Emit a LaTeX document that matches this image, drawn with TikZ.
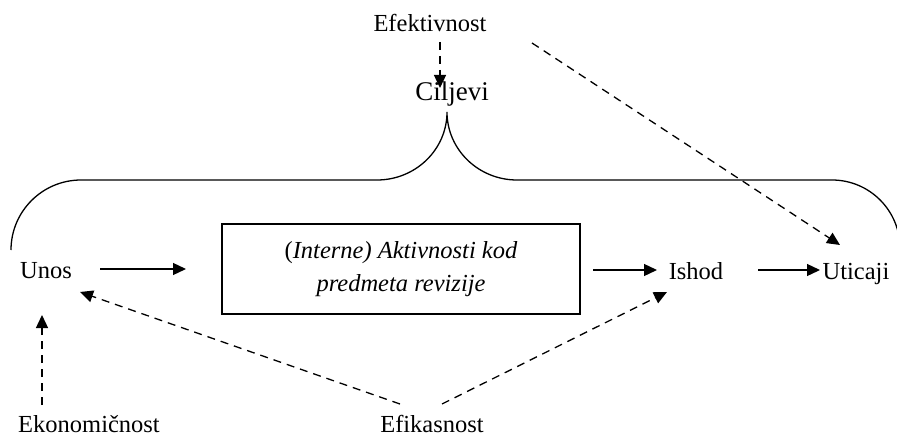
\documentclass[tikz,border=0pt]{standalone}
\usepackage{fontspec}
\setmainfont{Liberation Serif}
\usetikzlibrary{arrows.meta}
\begin{document}
\begin{tikzpicture}[x=1pt,y=-1pt,
  lbl/.style={inner sep=0pt, anchor=base, font=\fontsize{24.5}{33}\selectfont},
  arr/.style={line width=1.3pt,-{Triangle[length=13pt,width=12pt]}},
  darr/.style={arr, dash pattern=on 8pt off 6pt},
  boxst/.style={draw, line width=1.3pt, minimum width=358pt, minimum height=90pt,
    align=center, inner sep=0pt, font=\fontsize{24.5}{33}\selectfont},
  bracest/.style={line width=1.3pt}]
\useasboundingbox (0,0) rectangle (897,436);

% text nodes
\node[lbl] (efekt) at (430,32) {Efektivnost};
\node[lbl, font=\fontsize{27}{32}\selectfont] (cilj) at (452,100) {Ciljevi};
\node[lbl] (unos) at (46,278) {Unos};
\node[lbl] (ishod) at (696,279) {Ishod};
\node[lbl] (utic) at (856,279) {Uticaji};
\node[lbl, text depth=0pt] (ekon) at (89,432) {Ekonomičnost};
\node[lbl, text depth=0pt] (efik) at (432,432) {Efikasnost};
\node[boxst] (box) at (401,269) {(\textit{Interne) Aktivnosti kod}\\\textit{predmeta revizije}};

% connector end points
\coordinate (e1) at (440,42);
\coordinate (e2) at (440,88);
\coordinate (e3) at (532,43);
\coordinate (e4) at (840,245);
\coordinate (u1) at (100,269);
\coordinate (u2) at (186,269);
\coordinate (b1) at (593,270);
\coordinate (b2) at (657,270);
\coordinate (i1) at (758,270);
\coordinate (i2) at (820,270);
\coordinate (k1) at (42,405);
\coordinate (k2) at (42,315);
\coordinate (f1) at (400,404);
\coordinate (f2) at (80,292);
\coordinate (f3) at (442,404);
\coordinate (f4) at (667,292);

% solid arrows
\draw[arr] (u1) -- (u2);
\draw[arr] (b1) -- (b2);
\draw[arr] (i1) -- (i2);

% dashed arrows
\draw[darr] (e1) -- (e2);
\draw[darr] (e3) -- (e4);
\draw[darr] (k1) -- (k2);
\draw[darr] (f1) -- (f2);
\draw[darr] (f3) -- (f4);

% brace
\draw[bracest] (11,250) .. controls (11,211.4) and (42.4,180) .. (81,180)
  -- (377,180) .. controls (415.6,180) and (447,149.5) .. (447,112)
  .. controls (447,149.5) and (478.4,180) .. (517,180)
  -- (832,180) .. controls (869.5,180) and (900,210.5) .. (900,248);
\end{tikzpicture}
\end{document}
